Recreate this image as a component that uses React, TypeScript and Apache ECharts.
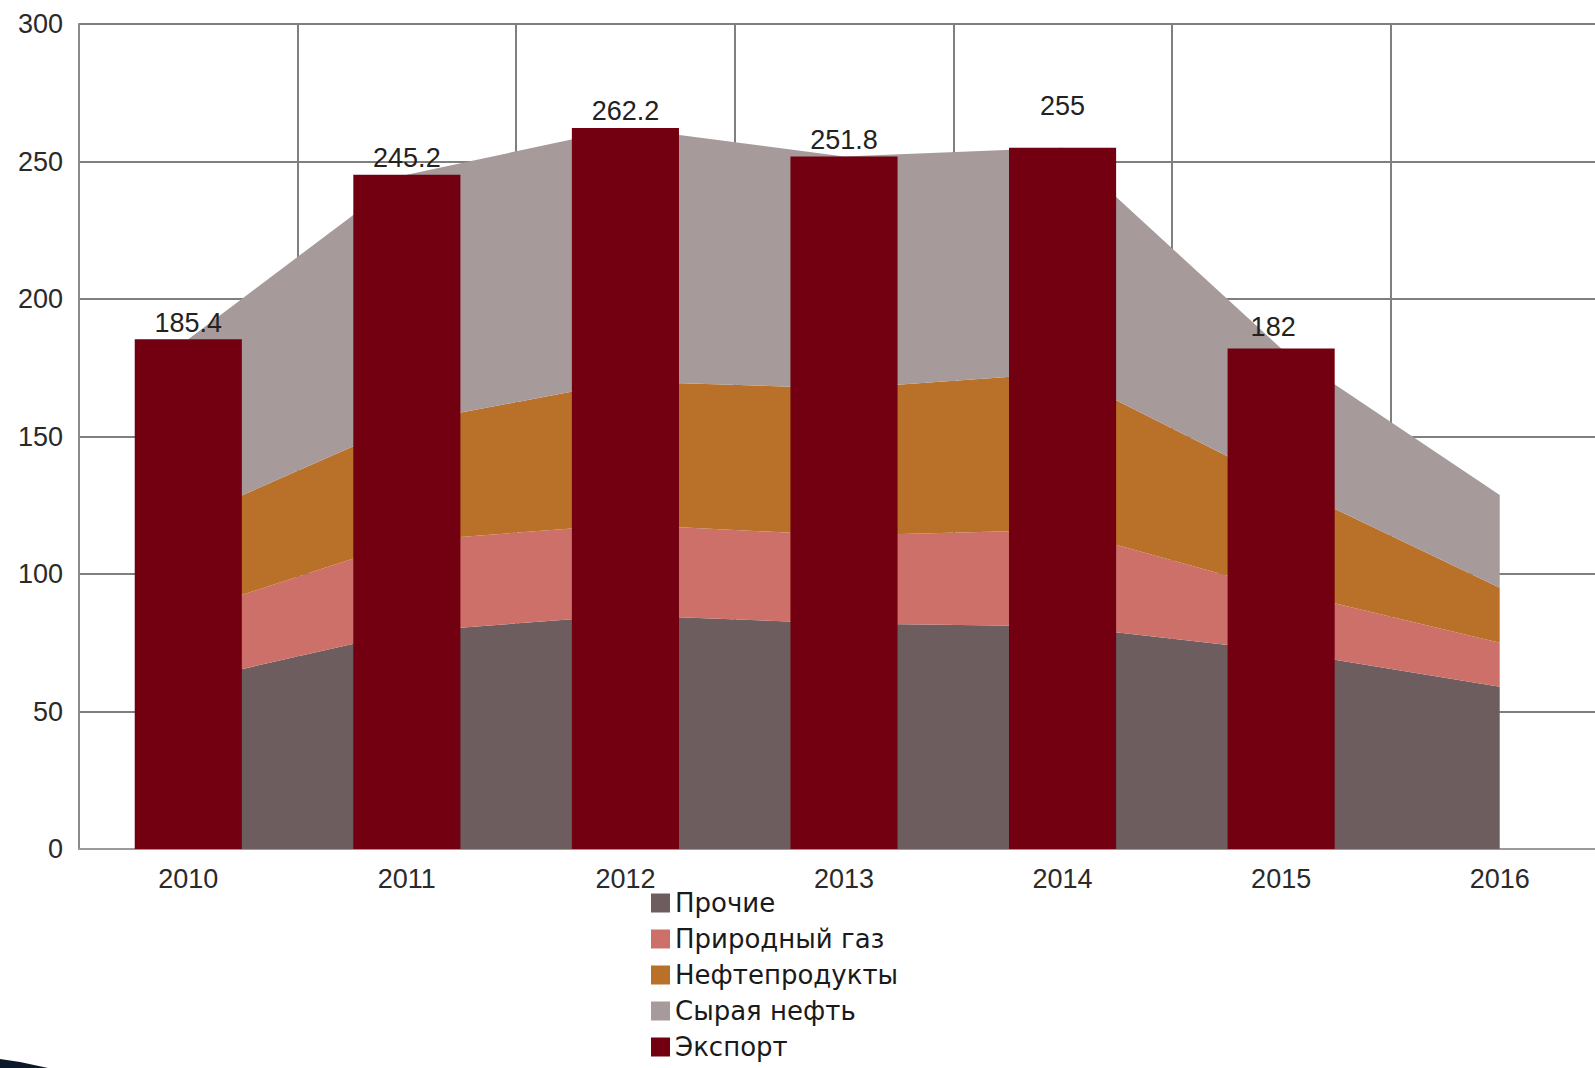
import React, { useEffect, useRef } from "react";
import * as echarts from "echarts";

const years = ["2010", "2011", "2012", "2013", "2014", "2015", "2016"];
const other = [61, 79, 85, 82, 81, 72, 59];
const gas = [25, 33, 33, 32, 35, 22, 16];
const products = [34, 43, 52, 53.5, 57, 39, 20];
const crude = [65.4, 90.2, 92.2, 84.3, 82, 49, 33.7];
const exportVals = [185.4, 245.2, 262.2, 251.8, 255, 182, null];

const names = ["Прочие", "Природный газ", "Нефтепродукты", "Сырая нефть", "Экспорт"];
const colors = ["#6e5d5f", "#cd706a", "#b9712a", "#a69a9b", "#720010"];

export default function App() {
  const ref = useRef<HTMLDivElement>(null);
  useEffect(() => {
    if (!ref.current) return;
    const chart = echarts.init(ref.current, null, { renderer: "svg" });
    const areaSeries = [other, gas, products, crude].map((d, i) => ({
      name: names[i],
      type: "line",
      stack: "total",
      data: d,
      symbol: "none",
      smooth: false,
      lineStyle: { width: 0, color: colors[i] },
      itemStyle: { color: colors[i] },
      areaStyle: { color: colors[i], opacity: 1 },
      z: 2,
    }));
    const barData = exportVals.map((v, i) =>
      i === 4 ? { value: v, label: { distance: 28 } } : i === 5 ? { value: v, label: { distance: 8, offset: [-8, 0] } } : v
    );
    chart.setOption({
      animation: false,
      backgroundColor: "#ffffff",
      color: colors,
      grid: {
        left: 79,
        top: 24,
        bottom: 219,
        width: 1530,
        containLabel: false,
        outerBoundsMode: "none",
      },
      legend: {
        orient: "vertical",
        left: 651,
        top: 890,
        height: 178,
        padding: 0,
        icon: "rect",
        itemWidth: 19,
        itemHeight: 19,
        itemGap: 10,
        data: names,
        textStyle: {
          fontFamily: "DejaVu Sans",
          fontSize: 26,
          color: "#1a1a1a",
          lineHeight: 26,
        },
      },
      graphic: [
        {
          type: "polygon",
          shape: { points: [[0, 1059], [20, 1062], [48, 1068], [0, 1068]] },
          style: { fill: "#0d1a2a" },
          silent: true,
        },
      ],
      xAxis: {
        type: "category",
        data: years,
        boundaryGap: true,
        axisLine: { show: true, lineStyle: { color: "#9a9a9a", width: 2 } },
        axisTick: { show: false },
        axisLabel: {
          fontFamily: "Liberation Sans",
          fontSize: 27,
          color: "#2a2a2a",
          margin: 16,
        },
        splitLine: { show: true, lineStyle: { color: "#7f7f7f", width: 2 } },
      },
      yAxis: {
        type: "value",
        min: 0,
        max: 300,
        interval: 50,
        axisLine: { show: true, lineStyle: { color: "#8a8a8a", width: 2 } },
        axisTick: { show: false },
        axisLabel: {
          fontFamily: "Liberation Sans",
          fontSize: 27,
          color: "#2a2a2a",
          margin: 16,
        },
        splitLine: { show: true, lineStyle: { color: "#7f7f7f", width: 2 } },
      },
      series: [
        ...areaSeries,
        {
          name: names[4],
          type: "bar",
          data: barData,
          barWidth: "49%",
          itemStyle: { color: colors[4] },
          z: 3,
          label: {
            show: true,
            position: "top",
            distance: 3,
            fontFamily: "Liberation Sans",
            fontSize: 27,
            color: "#222222",
          },
        },
      ],
    });
    return () => chart.dispose();
  }, []);
  return (
    <div
      ref={ref}
      style={{ position: "absolute", left: 0, top: 0, width: 1595, height: 1068, background: "#fff" }}
    />
  );
}
